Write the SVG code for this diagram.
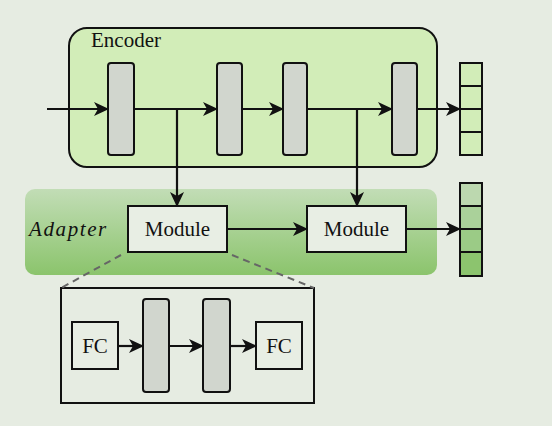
<svg xmlns="http://www.w3.org/2000/svg" width="552" height="426" viewBox="0 0 552 426">
<style>
.blk{fill:#d1d6ce;stroke:#111;stroke-width:2}
.box{fill:#e8eee4;stroke:#111;stroke-width:2}
.ln{fill:none;stroke:#111;stroke-width:2.2}
.cell{stroke:#111;stroke-width:2}
.t{font-family:"Liberation Serif",serif;font-size:21px;fill:#111}
</style>
<defs>
<marker id="ah" viewBox="0 0 15 14" refX="14" refY="7" markerWidth="15" markerHeight="14" markerUnits="userSpaceOnUse" orient="auto">
<path d="M0,0 L15,7 L0,14 L4,7 z" fill="#111"/>
</marker>
<linearGradient id="ag" x1="0" y1="0" x2="0" y2="1">
<stop offset="0" stop-color="#c2ddb6"/>
<stop offset="1" stop-color="#8bc46c"/>
</linearGradient>
</defs>
<rect width="552" height="426" fill="#e6ece2"/>
<g id="encoder">
<rect x="69" y="28" width="368" height="139" rx="18" fill="#d2edb8" stroke="#111" stroke-width="2"/>
<text class="t" x="91" y="47">Encoder</text>
</g>
<g id="adapter">
<rect x="25" y="189" width="412" height="86" rx="10" fill="url(#ag)"/>
<text class="t" x="29" y="236" font-style="italic" letter-spacing="1.6">Adapter</text>
</g>
<g id="enc-block1"><rect class="blk" x="108" y="63" width="26" height="92" rx="3"/></g>
<g id="enc-block2"><rect class="blk" x="217" y="63" width="25" height="92" rx="3"/></g>
<g id="enc-block3"><rect class="blk" x="283" y="63" width="24" height="92" rx="3"/></g>
<g id="enc-block4"><rect class="blk" x="392" y="63" width="25" height="92" rx="3"/></g>
<g id="enc-output">
<rect class="cell" x="460" y="63" width="22" height="23" fill="#d2edb8"/>
<rect class="cell" x="460" y="86" width="22" height="23" fill="#d2edb8"/>
<rect class="cell" x="460" y="109" width="22" height="23" fill="#d2edb8"/>
<rect class="cell" x="460" y="132" width="22" height="23" fill="#d2edb8"/>
</g>
<g id="module1">
<rect class="box" x="128" y="206" width="99" height="46"/>
<text class="t" x="177.5" y="236" text-anchor="middle">Module</text>
</g>
<g id="module2">
<rect class="box" x="307" y="206" width="99" height="46"/>
<text class="t" x="356.5" y="236" text-anchor="middle">Module</text>
</g>
<g id="adapter-output">
<rect class="cell" x="460" y="183" width="22" height="23" fill="#bcd8af"/>
<rect class="cell" x="460" y="206" width="22" height="23" fill="#aad19a"/>
<rect class="cell" x="460" y="229" width="22" height="23" fill="#9bcb86"/>
<rect class="cell" x="460" y="252" width="22" height="24" fill="#8cc46e"/>
</g>
<g id="module-detail">
<rect x="61" y="288" width="253" height="115" fill="none" stroke="#111" stroke-width="2"/>
</g>
<g id="fc1">
<rect class="box" x="72" y="322" width="46" height="47"/>
<text class="t" x="95" y="353" text-anchor="middle">FC</text>
</g>
<g id="det-block1"><rect class="blk" x="143" y="299" width="26" height="93" rx="3"/></g>
<g id="det-block2"><rect class="blk" x="203" y="299" width="27" height="93" rx="3"/></g>
<g id="fc2">
<rect class="box" x="256" y="322" width="46" height="47"/>
<text class="t" x="279" y="353" text-anchor="middle">FC</text>
</g>
<g id="connectors">
<line class="ln" x1="47" y1="109" x2="108" y2="109" marker-end="url(#ah)"/>
<line class="ln" x1="134" y1="109" x2="217" y2="109" marker-end="url(#ah)"/>
<line class="ln" x1="242" y1="109" x2="283" y2="109" marker-end="url(#ah)"/>
<line class="ln" x1="307" y1="109" x2="392" y2="109" marker-end="url(#ah)"/>
<line class="ln" x1="417" y1="109" x2="460" y2="109" marker-end="url(#ah)"/>
<line class="ln" x1="177" y1="109" x2="177" y2="206" marker-end="url(#ah)"/>
<line class="ln" x1="357" y1="109" x2="357" y2="206" marker-end="url(#ah)"/>
<line class="ln" x1="227" y1="229" x2="307" y2="229" marker-end="url(#ah)"/>
<line class="ln" x1="406" y1="229" x2="460" y2="229" marker-end="url(#ah)"/>
<line class="ln" x1="118" y1="346" x2="143" y2="346" marker-end="url(#ah)"/>
<line class="ln" x1="169" y1="346" x2="203" y2="346" marker-end="url(#ah)"/>
<line class="ln" x1="230" y1="346" x2="256" y2="346" marker-end="url(#ah)"/>
<line x1="121" y1="255" x2="61" y2="288" stroke="#666" stroke-width="2" stroke-dasharray="7,5"/>
<line x1="232" y1="255" x2="314" y2="288" stroke="#666" stroke-width="2" stroke-dasharray="7,5"/>
</g>
</svg>
